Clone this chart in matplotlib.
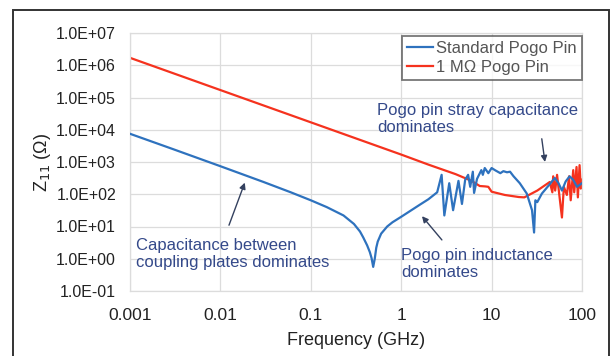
import matplotlib
matplotlib.use("Agg")
import matplotlib.pyplot as plt
from matplotlib.ticker import FixedLocator, FuncFormatter, NullLocator
from matplotlib.patches import Rectangle

plt.rcParams['font.family'] = ['Liberation Sans', 'DejaVu Sans']

# Standard Pogo Pin (blue)
std_freq = [0.001, 0.003, 0.01, 0.03, 0.06, 0.1, 0.15, 0.23, 0.3, 0.35, 0.38, 0.42,
            0.45, 0.47, 0.49, 0.51, 0.53, 0.55, 0.6, 0.7, 0.8, 1.0, 1.25, 1.6, 2.0,
            2.5, 2.8, 3.0, 3.4, 3.75, 4.3, 4.7, 5.1, 5.5, 5.8, 6.2, 6.4, 6.9, 7.7,
            8.0, 8.4, 9.2, 10, 11, 12.5, 13.5, 14.8, 16, 17.5, 20.5, 24.5, 28, 29.5,
            30.5, 32, 36, 43, 50, 55, 60, 66, 73, 80, 88, 100]
std_z = [7500, 2500, 740, 240, 115, 65, 40, 22, 12, 7, 4.6, 2.6,
         1.6, 1.05, 0.56, 1.0, 2.2, 3.4, 6, 10, 13.5, 20, 30, 47, 70,
         115, 400, 22, 220, 32, 260, 50, 280, 400, 170, 500, 110, 300, 560,
         400, 650, 450, 650, 550, 450, 520, 480, 500, 360, 220, 105, 32, 6.5,
         65, 57, 105, 190, 320, 220, 130, 250, 360, 280, 170, 220]

# 1 MOhm Pogo Pin (red)
mo_freq = [0.001, 0.01, 0.1, 1, 2, 4, 6, 7.4, 8.5, 9.2, 10, 14, 20, 23, 32, 44, 47,
           48, 50.5, 53, 56, 60, 63, 68, 72, 75, 80, 82, 87, 90, 94, 97, 100]
mo_z = [1.7e6, 1.7e5, 1.7e4, 1700, 830, 420, 260, 180, 175, 170, 120, 95, 82, 80,
        130, 240, 115, 360, 130, 400, 100, 19, 170, 95, 360, 65, 560, 115, 700,
        80, 800, 150, 280]

y_ticks = [1e-1, 1e0, 1e1, 1e2, 1e3, 1e4, 1e5, 1e6, 1e7]
x_ticks = [0.001, 0.01, 0.1, 1, 10, 100]
x_labels = ['0.001', '0.01', '0.1', '1', '10', '100']

fig = plt.figure(figsize=(6.16, 3.56), dpi=100)
ax = fig.add_axes([130/616, 1-291/356, 452/616, 258/356])

blue = '#2E72BE'
red = '#F5321E'
ax.plot(std_freq, std_z, color=blue, lw=1.6, label='Standard Pogo Pin', zorder=3)
ax.plot(mo_freq, mo_z, color=red, lw=1.6, label='1 MΩ Pogo Pin', zorder=2)

ax.set_xscale('log')
ax.set_yscale('log')
ax.set_xlim(0.001, 100)
ax.set_ylim(1e-1, 1e7)
ax.xaxis.set_major_locator(FixedLocator(x_ticks))
ax.xaxis.set_minor_locator(NullLocator())
ax.yaxis.set_major_locator(FixedLocator(y_ticks))
ax.yaxis.set_minor_locator(NullLocator())
ax.set_xticklabels(x_labels)
ax.yaxis.set_major_formatter(FuncFormatter(lambda v, p: '{:.1e}'.format(v).upper()))
ax.tick_params(axis='both', length=0, colors='#222222')
ax.tick_params(axis='y', pad=10, labelsize=11.5)
ax.tick_params(axis='x', pad=12, labelsize=12.5)
ax.grid(True, color='#DCDCDC', lw=0.9)
ax.set_axisbelow(True)
for s in ax.spines.values():
    s.set_color('#DCDCDC')
    s.set_linewidth(0.9)

ax.set_xlabel('Frequency (GHz)', fontsize=13, color='#222222', labelpad=7)
ax.set_ylabel('Z$_{11}$ (Ω)', fontsize=13, color='#222222', labelpad=2)

leg = ax.legend(loc='upper right', bbox_to_anchor=(0.999, 0.988), fontsize=12,
                frameon=True, fancybox=False, handlelength=1.6, handletextpad=0.15,
                borderpad=0.3, labelspacing=0.25, borderaxespad=0)
leg.get_frame().set_edgecolor('#555555')
leg.get_frame().set_linewidth(1.3)
for t in leg.get_texts():
    t.set_color('#555555')

ann_color = '#34498A'
arrow = dict(arrowstyle='-|>', color='#34415F', lw=1.0, mutation_scale=9,
             shrinkA=0, shrinkB=0)
ax.text(0.546, 0.728, 'Pogo pin stray capacitance\ndominates', transform=ax.transAxes,
        fontsize=12, color=ann_color, va='top', ha='left', linespacing=1.15)
ax.annotate('', xy=(0.918, 0.50), xytext=(0.911, 0.59), xycoords='axes fraction',
            textcoords='axes fraction', arrowprops=arrow)
ax.text(0.013, 0.205, 'Capacitance between\ncoupling plates dominates', transform=ax.transAxes,
        fontsize=12, color=ann_color, va='top', ha='left', linespacing=1.15)
ax.annotate('', xy=(0.254, 0.42), xytext=(0.219, 0.255), xycoords='axes fraction',
            textcoords='axes fraction', arrowprops=arrow)
ax.text(0.600, 0.165, 'Pogo pin inductance\ndominates', transform=ax.transAxes,
        fontsize=12, color=ann_color, va='top', ha='left', linespacing=1.15)
ax.annotate('', xy=(0.646, 0.29), xytext=(0.690, 0.198), xycoords='axes fraction',
            textcoords='axes fraction', arrowprops=arrow)

fig.patches.append(Rectangle((13/616, -0.1), (609-13)/616, 1.1 - 10/356,
                             transform=fig.transFigure, fill=False,
                             edgecolor='#333333', lw=1.4))

fig.savefig('out.png', dpi=100)
